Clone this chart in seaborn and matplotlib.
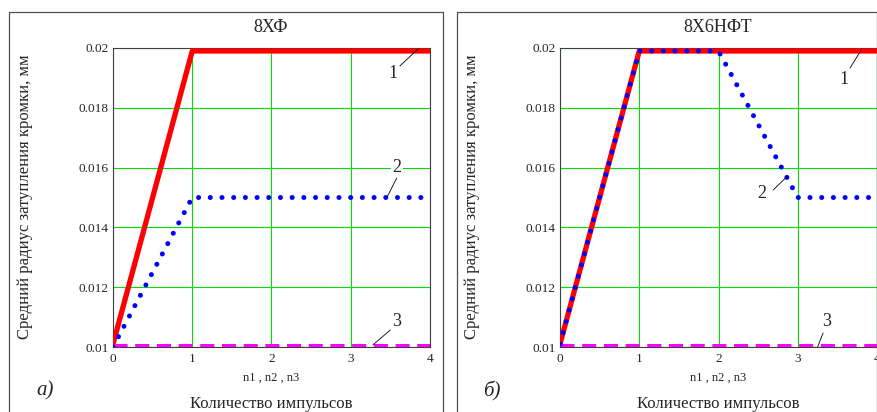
import matplotlib
matplotlib.use("Agg")
import matplotlib.pyplot as plt
from matplotlib.lines import Line2D
import seaborn as sns

# values
n1 = [0, 1, 4]
r1 = [0.0101, 0.0199, 0.0199]                 # curve 1 (both steels)
n2_a = [0, 1, 4]
r2_a = [0.0100, 0.0150, 0.0150]               # curve 2, 8ХФ
n2_b = [0, 1, 2, 3, 4]
r2_b = [0.0101, 0.0199, 0.0199, 0.0150, 0.0150]  # curve 2, 8Х6НФТ
n3 = [0, 4]
r3 = [0.01008, 0.01008]                       # curve 3 (both steels)

titles = ["8ХФ", "8Х6НФТ"]
letters = ["а)", "б)"]
x_ticks = [0, 1, 2, 3, 4]
y_ticks = [0.01, 0.012, 0.014, 0.016, 0.018, 0.02]

sns.set_style("white")
plt.rcParams["font.family"] = ["Liberation Serif", "DejaVu Serif"]

W, H = 877, 412
fig = plt.figure(figsize=(W / 100, H / 100), dpi=100)


def fx(x):
    return x / W


def fy(y):
    return 1 - y / H


# panel frames (bottom is cut off in the source image)
for x0, x1 in [(9, 443), (457, 877)]:
    fig.add_artist(Line2D([fx(x0), fx(x0), fx(x1), fx(x1)],
                          [fy(420), fy(12), fy(12), fy(420)],
                          color="#505050", lw=0.9))

# label positions: text xy, leader start, leader end
labels = [
    [("1", (3.53, 0.01916), (3.62, 0.0194), (3.85, 0.01997)),
     ("2", (3.58, 0.01599), (3.58, 0.01565), (3.46, 0.01502)),
     ("3", (3.58, 0.01084), (3.50, 0.01057), (3.28, 0.01007))],
    [("1", (3.58, 0.01896), (3.66, 0.01933), (3.80, 0.01993)),
     ("2", (2.55, 0.01512), (2.69, 0.01525), (2.86, 0.01569)),
     ("3", (3.37, 0.01084), (3.32, 0.01047), (3.25, 0.0100))],
]

curve2 = [(n2_a, r2_a), (n2_b, r2_b)]
ax_left = [113, 560]

for i in range(2):
    x0 = ax_left[i]
    ax = fig.add_axes([fx(x0), fy(347), 317 / W, 299 / H])

    sns.lineplot(x=n1, y=r1, ax=ax, color="#ff0000", lw=3.8, zorder=3)
    sns.lineplot(x=curve2[i][0], y=curve2[i][1], ax=ax, color="#0000ff",
                 lw=3.6, linestyle=(0, (0.01, 2.33)), dash_capstyle="round",
                 zorder=4)
    sns.lineplot(x=n3, y=r3, ax=ax, color="#ff00ff", lw=2.2,
                 linestyle=(0, (4.6, 2.5)), zorder=3)

    ax.set_xlim(0, 4)
    ax.set_ylim(0.01, 0.02)
    ax.set_xticks(x_ticks)
    ax.set_yticks(y_ticks)
    ax.set_yticklabels([f"{v:g}" for v in y_ticks])
    ax.tick_params(length=0, labelsize=9.5, pad=3)
    ax.tick_params(axis="x", pad=4)
    ax.grid(True, color="#00dd00", lw=0.8)
    ax.set_axisbelow(True)
    for sp in ax.spines.values():
        sp.set_color("#404040")
        sp.set_linewidth(0.8)
    ax.set_xlabel("")
    ax.set_ylabel("")

    for txt, pos, a, b in labels[i]:
        ax.text(pos[0], pos[1], txt, fontsize=13, ha="center", va="center",
                bbox=dict(facecolor="white", edgecolor="none", pad=1),
                zorder=5, clip_on=False)
        ax.plot([a[0], b[0]], [a[1], b[1]], color="black", lw=0.6, zorder=5)

    cx = x0 + 158
    fig.text(fx(cx), fy(28), titles[i], fontsize=13, ha="center", va="center")
    fig.text(fx(cx), fy(378), "n1 , n2 , n3", fontsize=9, ha="center",
             va="center")
    fig.text(fx(cx), fy(404), "Количество импульсов", fontsize=12,
             ha="center", va="center")
    fig.text(fx(x0 - 88), fy(197), "Средний радиус затупления кромки, мм",
             fontsize=12, rotation=90, ha="center", va="center")
    fig.text(fx(x0 - 68), fy(391), letters[i], fontsize=15, style="italic",
             ha="center", va="center")

fig.savefig("out.png", dpi=100)
